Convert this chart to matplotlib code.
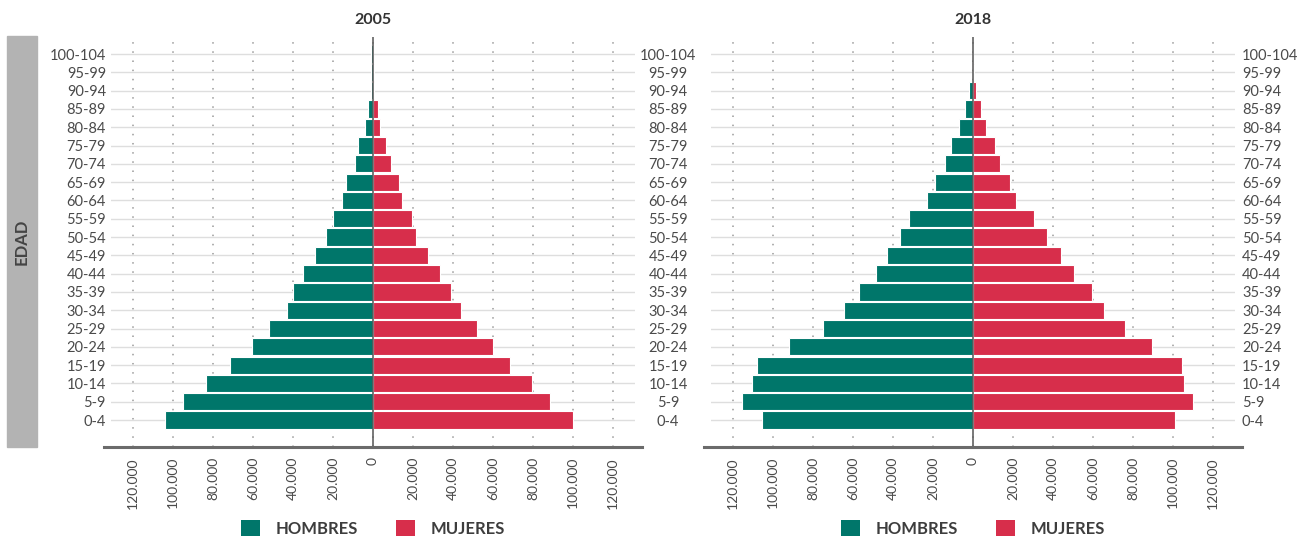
import numpy as np
import matplotlib.pyplot as plt
from matplotlib.patches import Patch, Rectangle
from matplotlib.ticker import FuncFormatter

# age groups, bottom to top
ages = ["0-4", "5-9", "10-14", "15-19", "20-24", "25-29", "30-34", "35-39",
        "40-44", "45-49", "50-54", "55-59", "60-64", "65-69", "70-74",
        "75-79", "80-84", "85-89", "90-94", "95-99", "100-104"]

hombres_2005 = [104000, 94800, 83600, 71500, 60400, 52200, 43200, 39800,
                34800, 28900, 23500, 19900, 15500, 13400, 9000,
                7300, 4200, 2300, 1000, 900, 900]
mujeres_2005 = [99800, 88500, 79700, 68300, 60200, 51800, 43800, 38800,
                33500, 27700, 21600, 19500, 14500, 13200, 8800,
                6300, 3400, 2300, 300, 300, 200]

hombres_2018 = [105500, 115300, 110300, 108000, 92200, 74900, 64300, 56800,
                48500, 43100, 36400, 31800, 23100, 19100, 13900,
                11000, 7100, 4000, 1900, 250, 100]
mujeres_2018 = [100800, 109900, 105700, 104500, 89700, 75800, 65600, 59300,
                50600, 44100, 36800, 30600, 21600, 18700, 13500,
                11000, 6650, 3750, 1700, 250, 100]

x_ticks = [-120000, -100000, -80000, -60000, -40000, -20000, 0,
           20000, 40000, 60000, 80000, 100000, 120000]

TEAL = "#00766a"
RED = "#d72e4b"
TXT = "#4a4a4a"

plt.rcParams["font.family"] = ["Lato", "DejaVu Sans"]

W, H = 1307, 540
fig = plt.figure(figsize=(W / 100, H / 100), dpi=100)

ax_w = 524 / W
ax_b = 1 - 447.3 / H
ax_h = 410.6 / H
ax1 = fig.add_axes([111 / W, ax_b, ax_w, ax_h])
ax2 = fig.add_axes([711 / W, ax_b, ax_w, ax_h])


def miles(v, pos):
    if v == 0:
        return "0"
    return f"{abs(int(v)):,}".replace(",", ".")


def piramide(ax, hombres, mujeres, titulo):
    y = np.arange(len(ages))
    ax.barh(y, -np.array(hombres), height=0.94, color=TEAL,
            edgecolor="white", linewidth=0.8, zorder=2)
    ax.barh(y, mujeres, height=0.94, color=RED,
            edgecolor="white", linewidth=0.8, zorder=2)
    ax.axvline(0, color="#555555", lw=1.1, zorder=3)

    ax.set_xlim(-131000, 131000)
    ax.set_ylim(-1.49, 20.95)
    ax.set_yticks(y, ages)
    ax.set_xticks(x_ticks)
    ax.xaxis.set_major_formatter(FuncFormatter(miles))
    ax.tick_params(axis="x", length=0, labelrotation=90, pad=7,
                   labelsize=10, labelcolor=TXT)
    ax.tick_params(axis="y", length=0, labelsize=10.5, labelcolor=TXT)

    for s in ax.spines.values():
        s.set_visible(False)
    ax.grid(axis="x", linestyle=(0, (1, 5)), color="#9a9a9a", lw=1.1)
    ax.grid(axis="y", color="#dedede", lw=1)
    ax.set_axisbelow(True)

    # thick base line
    ax.plot([-7 / 524, 1 + 7 / 524], [0, 0], transform=ax.transAxes,
            color="#6b6b6b", lw=2.2, clip_on=False, zorder=4)

    ax.set_title(titulo, fontsize=11.5, fontweight="bold", color="#333333", pad=9)

    handles = [Patch(facecolor=TEAL), Patch(facecolor=RED)]
    ax.legend(handles, ["HOMBRES", "MUJERES"], loc="center",
              bbox_to_anchor=(0.5, -0.197), ncol=2, frameon=False,
              handlelength=1.15, handleheight=1.15, handletextpad=0.9,
              columnspacing=2.3, borderaxespad=0,
              prop={"weight": "bold", "size": 12}, labelcolor="#3d3d3d")


piramide(ax1, hombres_2005, mujeres_2005, "2005")
piramide(ax2, hombres_2018, mujeres_2018, "2018")

ax1.tick_params(axis="y", labelleft=True, labelright=False, pad=3.6)
ax2.tick_params(axis="y", labelleft=False, labelright=True, pad=5)

# middle column of labels, centred between panels
mid = ax1.secondary_yaxis("right")
mid.set_yticks(np.arange(len(ages)), ages, ha="center")
mid.tick_params(length=0, pad=23.8, labelsize=10.5, labelcolor=TXT)
mid.spines["right"].set_visible(False)

# grey "EDAD" band
fig.patches.append(Rectangle((7 / W, 1 - 447 / H), 30 / W, 411 / H,
                             transform=fig.transFigure, color="#b3b3b3",
                             zorder=0))
fig.text(22 / W, 1 - 241.5 / H, "EDAD", rotation=90, ha="center",
         va="center", fontsize=12, fontweight="bold", color="#444444")

fig.savefig("out.png", dpi=100)
